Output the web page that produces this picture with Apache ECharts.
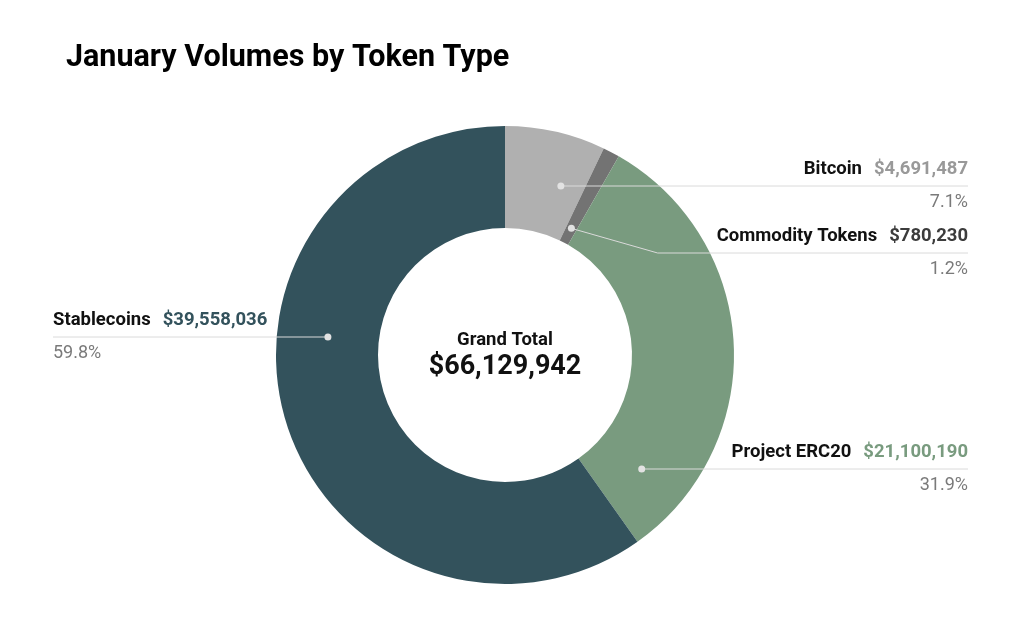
<!DOCTYPE html>
<html>
<head>
<meta charset="utf-8">
<script src="https://cdn.jsdelivr.net/npm/echarts@6/dist/echarts.min.js"></script>
<style>
  html, body { margin: 0; padding: 0; background: #fff; }
  #chart { width: 1024px; height: 628px; }
</style>
</head>
<body>
<div id="chart"></div>
<script>
// data
var tokenTypes = ['Bitcoin', 'Commodity Tokens', 'Project ERC20', 'Stablecoins'];
var volumes = [4691487, 780230, 21100190, 39558036];
var shares = ['7.1%', '1.2%', '31.9%', '59.8%'];
var grandTotal = 66129942; // as printed in the chart centre
var sliceColors = ['#b0b0b0', '#737373', '#799b7f', '#33525c'];
var valueColors = ['#999999', '#3c3c3c', '#799b7f', '#33525c'];

var chart = echarts.init(document.getElementById('chart'));

// layout
var cx = 505, cy = 355, rIn = 127, rOut = 229;
var rMid = (rIn + rOut) / 2;
var rightEdge = 968, leftEdge = 53;
// y of the separator line under each label row
var labelY = [186, 253, 469, 337];

var total = volumes.reduce(function (a, b) { return a + b; }, 0);
function money(v) { return '$' + v.toLocaleString('en-US'); }

// slice angles, clockwise from 12 o'clock, in degrees
var slices = [];
var acc = 0;
volumes.forEach(function (v) {
  var a0 = acc / total * 360;
  acc += v;
  var a1 = acc / total * 360;
  slices.push({ a0: a0, a1: a1, left: (a0 + a1) / 2 > 180 });
});

var RAD = Math.PI / 180;
function polar(deg, r) {
  return [cx + r * Math.sin(deg * RAD), cy - r * Math.cos(deg * RAD)];
}

// anchor dot: point inside the slice lined up with its label row if possible
function dotFor(i) {
  var s = slices[i];
  var c = (cy - labelY[i]) / rMid;
  if (Math.abs(c) <= 1) {
    var t = Math.acos(c) / RAD;
    if (s.left) t = 360 - t;
    if (t > s.a0 + 3 && t < s.a1 - 3) return polar(t, rMid);
  }
  var m = (s.a0 + s.a1) / 2;
  var cm = Math.cos(m * RAD);
  var r = Math.abs(cm) > 1e-6 ? (cy - labelY[i]) / cm : rMid;
  r = Math.max(rIn + 16, Math.min(rOut - 16, r));
  return polar(m, r);
}

var guides = [];
tokenTypes.forEach(function (name, i) {
  var d = dotFor(i);
  var y = labelY[i];
  var sign = slices[i].left ? -1 : 1;
  var pts = [d];
  var dy = Math.abs(d[1] - y);
  if (dy > 1) pts.push([d[0] + sign * 3.5 * dy, y]);
  pts.push([slices[i].left ? leftEdge : rightEdge, y]);
  guides.push({
    type: 'polyline',
    z: 10,
    silent: true,
    shape: { points: pts },
    style: { stroke: '#dadada', lineWidth: 1, fill: null }
  });
  guides.push({
    type: 'circle',
    z: 11,
    silent: true,
    shape: { cx: d[0], cy: d[1], r: 3.5 },
    style: { fill: '#e2e2e2' }
  });
});

var pieData = tokenTypes.map(function (name, i) {
  var align = slices[i].left ? 'left' : 'right';
  return {
    name: name,
    value: volumes[i],
    itemStyle: { color: sliceColors[i] },
    label: {
      formatter: '{name|' + name + '}{val|' + money(volumes[i]) + '}\n{pc|' + shares[i] + '}',
      rich: {
        name: { fontFamily: 'Roboto', fontSize: 18.5, fontWeight: 'bold', color: '#111', align: align, lineHeight: 33 },
        val: { fontFamily: 'Roboto', fontSize: 18.5, fontWeight: 'bold', color: valueColors[i], align: align, lineHeight: 33, padding: [0, 0, 0, 12] },
        pc: { fontFamily: 'Roboto', fontSize: 18, color: '#7a7a7a', align: align, lineHeight: 33 }
      }
    }
  };
});

var option = {
  animation: false,
  backgroundColor: '#fff',
  title: {
    text: 'January Volumes by Token Type',
    left: 61,
    top: 38,
    textStyle: { fontFamily: 'Roboto', fontWeight: 'bold', fontSize: 30.5, color: '#000' }
  },
  series: [{
    type: 'pie',
    center: [cx, cy],
    radius: [rIn, rOut],
    startAngle: 90,
    clockwise: true,
    silent: true,
    label: { show: true, position: 'outside' },
    labelLine: { show: false },
    labelLayout: function (p) {
      var i = p.dataIndex;
      var left = slices[i].left;
      return {
        x: left ? leftEdge : rightEdge,
        y: labelY[i],
        align: left ? 'left' : 'right',
        verticalAlign: 'middle'
      };
    },
    data: pieData
  }],
  graphic: guides.concat([
    {
      type: 'text', z: 12, x: cx, y: 340,
      style: { text: 'Grand Total', fontFamily: 'Roboto', fontWeight: 'bold', fontSize: 18.5, fill: '#111', textAlign: 'center', textVerticalAlign: 'middle' }
    },
    {
      type: 'text', z: 12, x: cx, y: 367,
      style: { text: money(grandTotal), fontFamily: 'Roboto', fontWeight: 'bold', fontSize: 27, fill: '#111', textAlign: 'center', textVerticalAlign: 'middle' }
    }
  ])
};

chart.setOption(option);
</script>
</body>
</html>
